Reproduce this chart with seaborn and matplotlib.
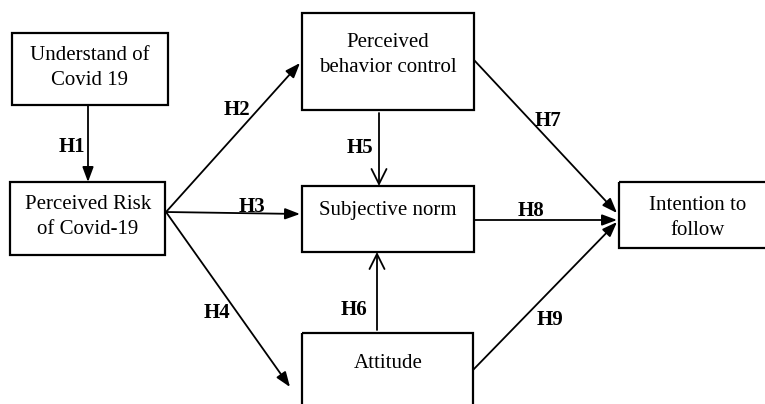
import matplotlib
matplotlib.use('Agg')
import matplotlib.pyplot as plt
import seaborn as sns
from matplotlib.patches import Rectangle

# boxes: name, x0, y0, x1, y1 (pixel space of the 765x404 picture), text centre
node_names=['Understand of\nCovid 19','Perceived Risk\nof Covid-19','Perceived\nbehavior control',
            'Subjective norm','Attitude','Intention to\nfollow']
node_boxes=[(12,33,168,105),(10,182,165,255),(302,13,474,110),
            (302,186,474,252),(302,333,473,430),(619,182,778,248)]
node_text=[(90,68),(88,217),(388,55),(388,211),(388,364),(698,218)]

# paths: start, end, label, label centre, arrow style
edge_from=[(88,105),(166,212),(166,212),(166,212),(379,113),(377,330),(474,60),(474,220),(473,370)]
edge_to=[(88,182),(300,63),(300,214),(290,387),(379,186),(377,252),(617,213),(617,220),(617,222)]
edge_labels=['H1','H2','H3','H4','H5','H6','H7','H8','H9']
label_pos=[(72,147),(237,110),(252,207),(217,313),(360,148),(354,310),(548,121),(531,211),(550,320)]
open_head=['H5','H6']

sns.set_theme(style='white')
plt.rcParams['font.family']=['Liberation Serif','DejaVu Serif']
plt.rcParams['text.color']='black'

fig=plt.figure(figsize=(7.65,4.04),dpi=100)
ax=fig.add_axes([0,0,1,1])
ax.set_xlim(0,765)
ax.set_ylim(404,0)
ax.axis('off')

for name,(x0,y0,x1,y1),(tx,ty) in zip(node_names,node_boxes,node_text):
    ax.add_patch(Rectangle((x0,y0),x1-x0,y1-y0,fill=False,ec='black',lw=1.6))
    ax.text(tx,ty,name,ha='center',va='center',fontsize=15,linespacing=1.4,color='black')

for a,b,lab,(lx,ly) in zip(edge_from,edge_to,edge_labels,label_pos):
    if lab in open_head:
        props=dict(arrowstyle='->,head_length=0.9,head_width=0.45',lw=1.3,color='black',shrinkA=0,shrinkB=0)
    else:
        props=dict(arrowstyle='-|>,head_length=0.75,head_width=0.28',lw=1.3,color='black',shrinkA=0,shrinkB=0)
    ax.annotate('',xy=b,xytext=a,arrowprops=props)
    ax.text(lx,ly,lab,ha='center',va='center',fontsize=15,fontweight='bold',color='black')

fig.savefig('out.png',dpi=100,facecolor='white')
